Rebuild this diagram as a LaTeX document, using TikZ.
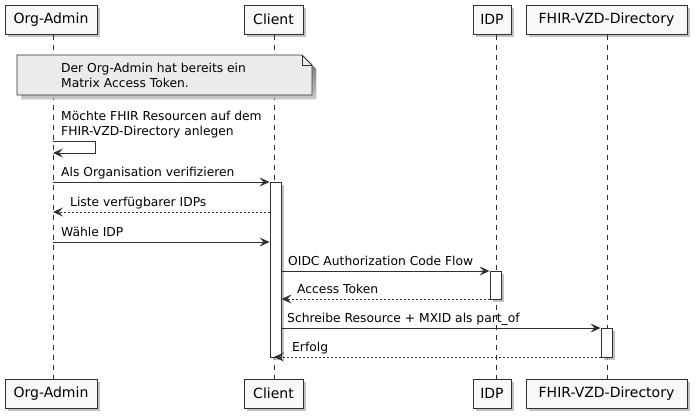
\documentclass[tikz,border=0pt]{standalone}
\usepackage{fontspec}
\setmainfont{DejaVu Sans}
\usetikzlibrary{arrows.meta,shadows}
\definecolor{boxfill}{HTML}{F8F8F8}
\definecolor{notefill}{HTML}{EBEBEB}
\definecolor{ink}{HTML}{303030}
\definecolor{shade}{HTML}{A8A8A8}
\begin{document}
\begin{tikzpicture}[x=1pt,y=-1pt,
  every node/.style={font=\fontsize{12.3}{15}\selectfont, text=black},
  part/.style={draw=ink, fill=boxfill, line width=1pt, minimum height=29pt, inner sep=0pt,
    font=\fontsize{14}{16}\selectfont,
    drop shadow={shadow xshift=3pt, shadow yshift=-3pt, fill=shade, opacity=0.7}},
  actbox/.style={draw=ink, fill=white, line width=0.9pt, minimum width=11pt, inner sep=0pt,
    drop shadow={shadow xshift=3pt, shadow yshift=-3pt, fill=shade, opacity=0.7}},
  lifeline/.style={draw=ink, line width=0.7pt, dash pattern=on 5pt off 5pt},
  msg/.style={draw=ink, line width=0.9pt, -{Stealth[length=10pt, width=9pt, inset=4pt]}},
  ret/.style={msg, dash pattern=on 2pt off 2pt},
  lbl/.style={anchor=west, inner sep=0pt, align=left}
]
\useasboundingbox (0,0) rectangle (696,418);

% lifeline x positions
\coordinate (oaX) at (53,0);
\coordinate (clX) at (274,0);
\coordinate (idX) at (496,0);
\coordinate (fhX) at (607,0);

% participants
\node[part, minimum width=92pt]  (oaT) at (51,19.5)    {Org-Admin};
\node[part, minimum width=59pt]  (clT) at (273.5,19.5) {Client};
\node[part, minimum width=38pt]  (idT) at (492,19.5)   {IDP};
\node[part, minimum width=161pt] (fhT) at (606.5,19.5) {FHIR-VZD-Directory};
\node[part, minimum width=92pt]  (oaB) at (51,393.5)    {Org-Admin};
\node[part, minimum width=59pt]  (clB) at (273.5,393.5) {Client};
\node[part, minimum width=38pt]  (idB) at (492,393.5)   {IDP};
\node[part, minimum width=161pt] (fhB) at (606.5,393.5) {FHIR-VZD-Directory};

% lifelines
\draw[lifeline] (oaT.south -| oaX) -- (oaB.north -| oaX);
\draw[lifeline] (clT.south -| clX) -- (clB.north -| clX);
\draw[lifeline] (idT.south -| idX) -- (idB.north -| idX);
\draw[lifeline] (fhT.south -| fhX) -- (fhB.north -| fhX);

% note
\fill[shade, opacity=0.7] (21,59) -- (306,59) -- (316,69) -- (316,99) -- (21,99) -- cycle;
\draw[ink, fill=notefill, line width=0.9pt] (17,55) -- (302,55) -- (312,65) -- (312,95) -- (17,95) -- cycle;
\draw[ink, line width=0.9pt] (302,55) -- (302,65) -- (312,65);
\node[lbl] (note) at (61,75) {Der Org-Admin hat bereits ein\\Matrix Access Token.};

% activation boxes
\node[actbox, minimum height=175pt] (actC) at (275.5,269.5) {};
\node[actbox, minimum height=28pt]  (actI) at (495.5,285) {};
\node[actbox, minimum height=29pt]  (actF) at (606.5,342.5) {};

% message rows
\coordinate (s1) at (0,141);
\coordinate (s2) at (0,153);
\coordinate (m1) at (0,182);
\coordinate (m2) at (0,212);
\coordinate (m3) at (0,242);
\coordinate (m4) at (0,271);
\coordinate (m5) at (0,299);
\coordinate (m6) at (0,328);
\coordinate (m7) at (0,357);
\coordinate (selfR) at (95,0);

% self message
\node[lbl] (t0) at (61,124.5) {Möchte FHIR Resourcen auf dem\\FHIR-VZD-Directory anlegen};
\draw[msg] (oaX |- s1) -- (selfR |- s1) -- (selfR |- s2) -- (oaX |- s2);

\node[lbl] (t1) at (61,173) {Als Organisation verifizieren};
\draw[msg] (oaX |- m1) -- (actC.west |- m1);

\node[lbl] (t2) at (70,203) {Liste verfügbarer IDPs};
\draw[ret] (actC.west |- m2) -- (oaX |- m2);

\node[lbl] (t3) at (61,232) {Wähle IDP};
\draw[msg] (oaX |- m3) -- (actC.west |- m3);

\node[lbl] (t4) at (288,261) {OIDC Authorization Code Flow};
\draw[msg] (actC.east |- m4) -- (actI.west |- m4);

\node[lbl] (t5) at (297,289) {Access Token};
\draw[ret] (actI.west |- m5) -- (actC.east |- m5);

\node[lbl] (t6) at (287,319) {Schreibe Resource + MXID als part\_of};
\draw[msg] (actC.east |- m6) -- (actF.west |- m6);

\node[lbl] (t7) at (292,348) {Erfolg};
\draw[ret] (actF.west |- m7) -- (clX |- m7);
\end{tikzpicture}
\end{document}
